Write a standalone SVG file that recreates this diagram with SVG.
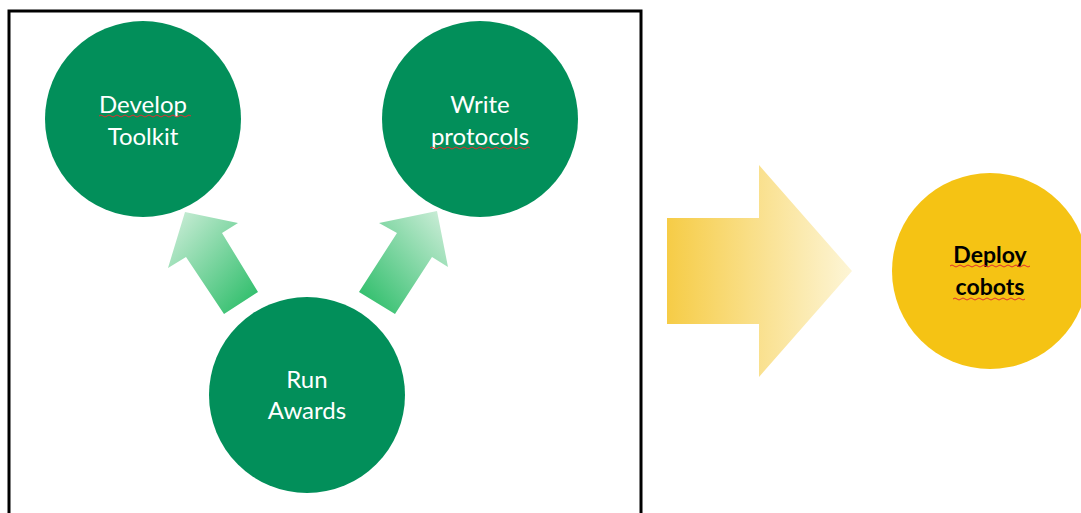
<svg xmlns="http://www.w3.org/2000/svg" width="1081" height="513" viewBox="0 0 1081 513">
<defs>
<linearGradient id="gL" x1="0" y1="0" x2="1" y2="1" gradientUnits="objectBoundingBox">
<stop offset="0" stop-color="#d2efdc"/><stop offset="1" stop-color="#22ba62"/>
</linearGradient>
<linearGradient id="gR" x1="1" y1="0" x2="0" y2="1" gradientUnits="objectBoundingBox">
<stop offset="0" stop-color="#d2efdc"/><stop offset="1" stop-color="#22ba62"/>
</linearGradient>
<linearGradient id="gY" x1="0" y1="0" x2="1" y2="0">
<stop offset="0" stop-color="#f6cc46"/><stop offset="1" stop-color="#fdf5d6"/>
</linearGradient>
<style>
.g{fill:#028f5a}
.w{fill:#ffffff;font-family:Lato,"Liberation Sans",sans-serif;font-size:24px;text-anchor:middle}
.b{fill:#000000;font-family:Lato,"Liberation Sans",sans-serif;font-size:23px;font-weight:bold;text-anchor:middle}
.sq{fill:none;stroke:#e03030;stroke-width:1}
</style>
</defs>
<rect x="9" y="11" width="632" height="520" fill="#ffffff" stroke="#000000" stroke-width="3"/>
<g id="connectors">
<polygon fill="url(#gL)" points="185,212 238,223 222,233 258,292 224,314 186,257 168,268"/>
<polygon fill="url(#gR)" points="437,211 448,267 432,257 395,314 359,292 397,233 379,223"/>
<polygon fill="url(#gY)" points="667,218 759,218 759,165 852,271 759,377 759,324 667,324"/>
</g>
<g id="develop">
<circle class="g" cx="143" cy="119" r="98"/>
<text class="w" x="143" y="113">Develop</text>
<text class="w" x="143" y="145">Toolkit</text>
<path class="sq" d="M99,116 q2,-2 4,0 t4,0 t4,0 t4,0 t4,0 t4,0 t4,0 t4,0 t4,0 t4,0 t4,0 t4,0 t4,0 t4,0 t4,0 t4,0 t4,0 t4,0 t4,0 t4,0 t4,0 t4,0 t4,0"/>
</g>
<g id="write">
<circle class="g" cx="480" cy="119" r="98"/>
<text class="w" x="480" y="113">Write</text>
<text class="w" x="480" y="145">protocols</text>
<path class="sq" d="M430,148 q2,-2 4,0 t4,0 t4,0 t4,0 t4,0 t4,0 t4,0 t4,0 t4,0 t4,0 t4,0 t4,0 t4,0 t4,0 t4,0 t4,0 t4,0 t4,0 t4,0 t4,0 t4,0 t4,0 t4,0 t4,0 t4,0"/>
</g>
<g id="awards">
<circle class="g" cx="307" cy="395" r="98"/>
<text class="w" x="307" y="388">Run</text>
<text class="w" x="307" y="419">Awards</text>
</g>
<g id="deploy">
<circle fill="#f5c314" cx="990" cy="271" r="98"/>
<text class="b" x="990" y="263">Deploy</text>
<text class="b" x="990" y="295">cobots</text>
<path class="sq" d="M950,266 q2,-2 4,0 t4,0 t4,0 t4,0 t4,0 t4,0 t4,0 t4,0 t4,0 t4,0 t4,0 t4,0 t4,0 t4,0 t4,0 t4,0 t4,0 t4,0 t4,0 t4,0"/>
<path class="sq" d="M953,299 q2,-2 4,0 t4,0 t4,0 t4,0 t4,0 t4,0 t4,0 t4,0 t4,0 t4,0 t4,0 t4,0 t4,0 t4,0 t4,0 t4,0 t4,0 t4,0"/>
</g>
</svg>
